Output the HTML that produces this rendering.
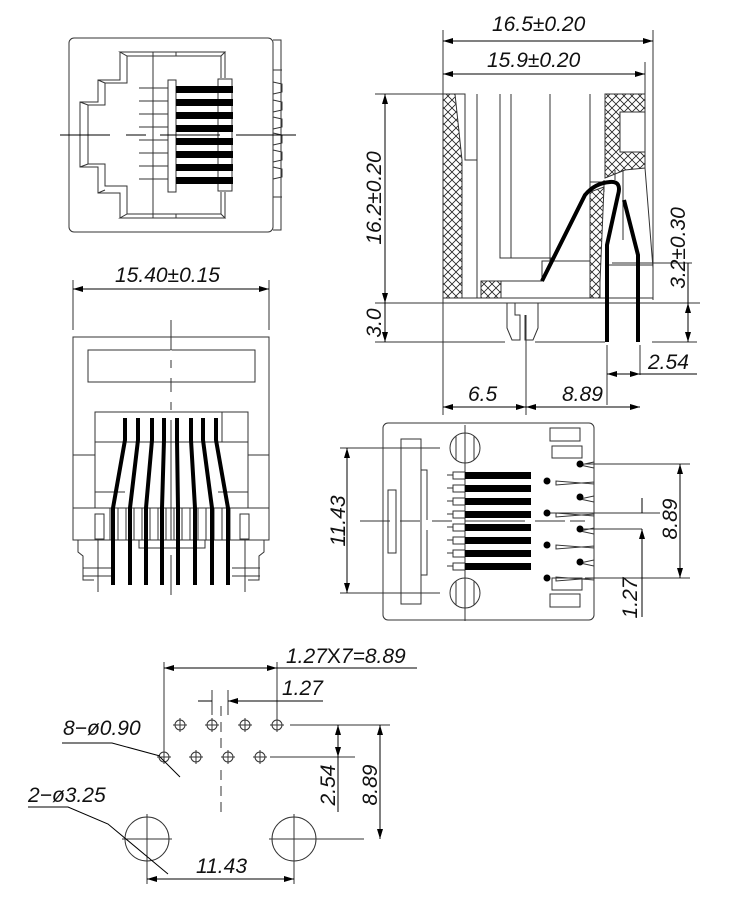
<!DOCTYPE html>
<html><head><meta charset="utf-8"><style>
html,body{margin:0;padding:0;background:#fff}
svg{display:block}
text{font-family:"Liberation Sans",sans-serif;font-style:italic;fill:#111;font-size:21px}
</style></head><body>
<svg width="750" height="900" viewBox="0 0 750 900" xmlns="http://www.w3.org/2000/svg">
<defs>
<pattern id="h" width="8" height="8" patternUnits="userSpaceOnUse">
<path d="M0 0L8 8M8 0L0 8" stroke="#222" stroke-width="0.8"/>
</pattern>
<marker id="a" markerWidth="10" markerHeight="6" refX="10" refY="3" orient="auto-start-reverse" markerUnits="userSpaceOnUse"><path d="M0 0L10 3L0 6z" fill="#000"/></marker>
</defs>
<g fill="none" stroke="#333" stroke-width="1">

<!-- TOP LEFT VIEW -->
<rect x="69" y="38" width="204" height="194" rx="5"/>
<path d="M273 40h8v190h-8"/>
<path d="M273 70h9M273 82l9 2v8l-9 2M273 100l9 2v8l-9 2M273 117l9 2v8l-9 2M273 133l9 2v8l-9 2M273 150l9 2v8l-9 2M273 167l9 2v8l-9 2M273 197h9"/>
<path d="M120 52h105l-4 4H127l-7-4zM120 218h105l-4-4H127l-7 4z"/>
<path d="M120 52v28H98v22H80v65h18v26h22v25"/>
<path d="M127 56v27H105v22H88v59h17v22h22v28"/>
<path d="M80 102l8 3M98 80l7 3M80 167l8-3M98 193l7-3"/>
<path d="M225 52v26M221 56v22M225 218v-26M221 214v-22"/>
<path d="M153 52v4M176 52v4M153 218v-4M176 218v-4M153 56v158"/>
<rect x="168" y="80" width="8" height="112"/>
<rect x="218" y="79" width="14" height="112"/>
<path d="M139 88h29M139 101h29M139 114h29M139 127h29M139 140h29M139 153h29M139 166h29M139 179h29"/>
<path d="M60 135h50M126 135h20M160 135h60M236 135h60" stroke="#000"/>
</g>
<g fill="#000">
<rect x="176" y="86" width="57" height="7"/><rect x="176" y="99" width="57" height="7"/><rect x="176" y="112" width="57" height="7"/><rect x="176" y="125" width="57" height="7"/><rect x="176" y="138" width="57" height="7"/><rect x="176" y="151" width="57" height="7"/><rect x="176" y="164" width="57" height="7"/><rect x="176" y="177" width="57" height="7"/>
</g>

<!-- SIDE VIEW -->
<g fill="none" stroke="#333" stroke-width="1">
<path d="M443 30v385M653 30v270M645 62v35" />
<path d="M443 41H653" stroke="#000" marker-start="url(#a)" marker-end="url(#a)"/>
<path d="M443 74H645" stroke="#000" marker-start="url(#a)" marker-end="url(#a)"/>
<path d="M375 94h68M375 303h68M375 342h130M535 342h70M652 342h45M600 303h100M612 263h80"/>
<path d="M385 94V303" stroke="#000" marker-start="url(#a)" marker-end="url(#a)"/>
<path d="M385 303V342" stroke="#000" marker-end="url(#a)"/>
<path d="M688 263V303" stroke="#000"/><path d="M688 303V342" stroke="#000" marker-start="url(#a)" marker-end="url(#a)"/>
<path d="M526 315v100M607 345v60M640 345v30"/>
<path d="M443 407H526" stroke="#000" marker-start="url(#a)" marker-end="url(#a)"/>
<path d="M526 407H640" stroke="#000" marker-start="url(#a)" marker-end="url(#a)"/>
<path d="M607 374H640" stroke="#000" marker-start="url(#a)" marker-end="url(#a)"/><path d="M640 374h57" stroke="#000"/>
</g>
<g stroke="#333" stroke-width="1">
<path d="M443 94h12l7 66v138h-19z" fill="url(#h)"/>
<rect x="481" y="281" width="20" height="17" fill="url(#h)"/>
<path d="M605 94h40v74l-20 2-20 8z" fill="url(#h)"/>
<rect x="620" y="112" width="25" height="40" fill="#fff"/>
<path d="M590 192l14-5-4 95v16h-10z" fill="url(#h)"/>
</g>
<g fill="none" stroke="#333" stroke-width="1">
<path d="M455 94h10v66h12V94M477 160v138M462 298h191M443 303h210"/>
<path d="M500 94v164h11V94M511 258h40v4M550 94v168M590 94v98M590 182h15M604 180v12"/>
<path d="M501 281h41v-20h48M501 298v-17"/>
<path d="M605 265h48M653 94v204M645 168l8 100"/>
<path d="M507 303v25l5 12h8v-25l-5 0v-12M538 303v25l-5 12h-8v-25"/>
<path d="M615 170v10M623 170v70"/>
</g>
<g fill="none" stroke="#000" stroke-width="4">
<path d="M542 281L585 195Q595 183 610 182Q622 181 618 195L607 245V342"/>
<path d="M624 200L638 255V342"/>
</g>

<!-- FRONT VIEW -->
<g fill="none" stroke="#333" stroke-width="1">
<path d="M73 280v50M269 280v50M171 320v220M171 555v40" />
<path d="M73 289H269" stroke="#000" marker-start="url(#a)" marker-end="url(#a)"/>
<rect x="73" y="337" width="196" height="203"/>
<rect x="88" y="350" width="167" height="32"/>
<path d="M171 350v10M171 368v10M171 392v10M171 410v10" stroke="#fff"/>
<rect x="95" y="412" width="153" height="96"/>
<path d="M95 442h153M95 492h30M218 492h30M73 455h22M248 455h21M73 508h196"/>
<path d="M95 514v25h9v-25zM240 514v25h9v-25z"/>
<path d="M78 540v12l5 4v24h11M264 540v12l-5 4v24h-11M83 568h28M83 576h28M232 568h28M232 576h28M139 540v8h66v-8"/>
<path d="M110 508v32M118 508v32M126 508v32M134 508v32M142 508v32M150 508v32M158 508v32M166 508v32M174 508v32M182 508v32M190 508v32M198 508v32M206 508v32M214 508v32M222 508v32M230 508v32"/>
<path d="M98 540v52M245 540v52"/>
<path d="M122 412h100v30" />
</g>
<g fill="none" stroke="#000" stroke-width="4">
<path d="M125 418v22L113 508v77"/><path d="M138 418v22L130 508v77"/><path d="M152 418v22L146 508v77"/><path d="M164 418v22L162 508v77"/><path d="M177 418v22L178 508v77"/><path d="M191 418v22L195 508v77"/><path d="M203 418v22L212 508v77"/><path d="M216 418v22L228 508v77"/>
</g>

<!-- BOTTOM VIEW -->
<g fill="none" stroke="#333" stroke-width="1">
<rect x="383" y="423" width="211" height="197" rx="5"/>
<path d="M401 439h20v165h-20z"/><path d="M421 470h6v50M421 575h6v-45"/><rect x="388" y="490" width="8" height="63"/>
<rect x="550" y="428" width="30" height="13"/><rect x="552" y="446" width="30" height="12"/><rect x="550" y="594" width="30" height="13"/><rect x="552" y="578" width="30" height="12"/>
<path d="M594 462l-14 3 14 3v16l-38-3v4l38-3v14l-14 3 14 3v14l-38-3v4l38-3v14l-14 3 14 3v14l-38-3v4l38-3v14l-14 3 14 3v14l-38-3v4l38-3"/>
<circle cx="465" cy="448" r="15"/><circle cx="465" cy="593" r="15"/>
<path d="M456 436v24M474 436v24M456 581v24M474 581v24"/>
<path d="M340 448h100M340 593h100M465 425v196M360 521h30M400 521h20M432 521h20M465 521h60M535 521h30M570 521h15"/>
<path d="M347 448V593" stroke="#000" marker-start="url(#a)" marker-end="url(#a)"/>
<path d="M585 464h105M585 578h105M550 513h110M582 529h60"/>
<path d="M680 464V578" stroke="#000" marker-start="url(#a)" marker-end="url(#a)"/>
<path d="M642 500v13M642 529v88" stroke="#000"/>
<path d="M642 498v15M642 544v-15" stroke="#000" marker-end="url(#a)"/>
<path d="M453 472h12v7h-12zM453 485h12v7h-12zM453 498h12v7h-12zM453 511h12v7h-12zM453 524h12v7h-12zM453 537h12v7h-12zM453 550h12v7h-12zM453 563h12v7h-12z"/>
<path d="M447 475h6M447 488h6M447 501h6M447 514h6M447 527h6M447 540h6M447 553h6M447 566h6"/>
</g>
<g fill="#000">
<rect x="465" y="472" width="66" height="7"/><rect x="465" y="485" width="66" height="7"/><rect x="465" y="498" width="66" height="7"/><rect x="465" y="511" width="66" height="7"/><rect x="465" y="524" width="66" height="7"/><rect x="465" y="537" width="66" height="7"/><rect x="465" y="550" width="66" height="7"/><rect x="465" y="563" width="66" height="7"/>
<circle cx="547" cy="481" r="3.5"/><circle cx="547" cy="513" r="3.5"/><circle cx="547" cy="545" r="3.5"/><circle cx="547" cy="578" r="3.5"/>
<circle cx="580" cy="464" r="3.5"/><circle cx="580" cy="497" r="3.5"/><circle cx="580" cy="529" r="3.5"/><circle cx="580" cy="562" r="3.5"/>
</g>

<!-- FOOTPRINT -->
<g fill="none" stroke="#333" stroke-width="1">
<circle cx="180" cy="725" r="5"/><circle cx="212" cy="725" r="5"/><circle cx="245" cy="725" r="5"/><circle cx="277" cy="725" r="5"/>
<circle cx="164" cy="757" r="5"/><circle cx="196" cy="757" r="5"/><circle cx="228" cy="757" r="5"/><circle cx="260" cy="757" r="5"/>
<path d="M173 725h14M180 718v14M205 725h14M212 718v14M238 725h14M245 718v14M270 725h14M277 718v14M157 757h14M164 750v14M189 757h14M196 750v14M221 757h14M228 750v14M253 757h14M260 750v14"/>
<circle cx="147" cy="839" r="22"/><circle cx="294" cy="839" r="22"/>
<path d="M122 839h50M147 814v70M269 839h95M294 814v70"/>
<path d="M164 662v95M277 662v60"/>
<path d="M164 668H277" stroke="#000" marker-start="url(#a)" marker-end="url(#a)"/><path d="M277 668h140" stroke="#000"/>
<path d="M212 690v25M228 690v25"/>
<path d="M198 701h14M242 701h-14" stroke="#000" marker-end="url(#a)"/><path d="M228 701h95" stroke="#000"/>
<path d="M221 706v10M221 722v10M221 738v10M221 770v10M221 786v10M221 802v10"/>
<path d="M290 725h100M270 757h85"/>
<path d="M338 725V757" stroke="#000" marker-start="url(#a)" marker-end="url(#a)"/><path d="M338 757v55" stroke="#000"/>
<path d="M380 725V839" stroke="#000" marker-start="url(#a)" marker-end="url(#a)"/>
<path d="M147 879H294" stroke="#000" marker-start="url(#a)" marker-end="url(#a)"/>
<path d="M62 743h50l48 13M160 757l20 20" stroke="#000"/>
<path d="M28 807h40l40 17 60 50" stroke="#000"/>
</g>

<!-- TEXT -->
<text x="492" y="31">16.5±0.20</text>
<text x="487" y="67">15.9±0.20</text>
<text transform="translate(381 198) rotate(-90)" text-anchor="middle">16.2±0.20</text>
<text transform="translate(381 323) rotate(-90)" text-anchor="middle">3.0</text>
<text transform="translate(685 248) rotate(-90)" text-anchor="middle">3.2±0.30</text>
<text x="648" y="369">2.54</text>
<text x="468" y="401">6.5</text>
<text x="562" y="401">8.89</text>
<text x="115" y="282">15.40±0.15</text>
<text transform="translate(345 521) rotate(-90)" text-anchor="middle">11.43</text>
<text transform="translate(677 519) rotate(-90)" text-anchor="middle">8.89</text>
<text transform="translate(637 598) rotate(-90)" text-anchor="middle" font-size="19">1.27</text>
<text x="286" y="663">1.27<tspan font-style="normal">X</tspan>7=8.89</text>
<text x="282" y="695">1.27</text>
<text x="63" y="735">8−ø0.90</text>
<text x="28" y="802">2−ø3.25</text>
<text transform="translate(335 785) rotate(-90)" text-anchor="middle">2.54</text>
<text transform="translate(377 785) rotate(-90)" text-anchor="middle">8.89</text>
<text x="196" y="873">11.43</text>
</svg>
</body></html>
